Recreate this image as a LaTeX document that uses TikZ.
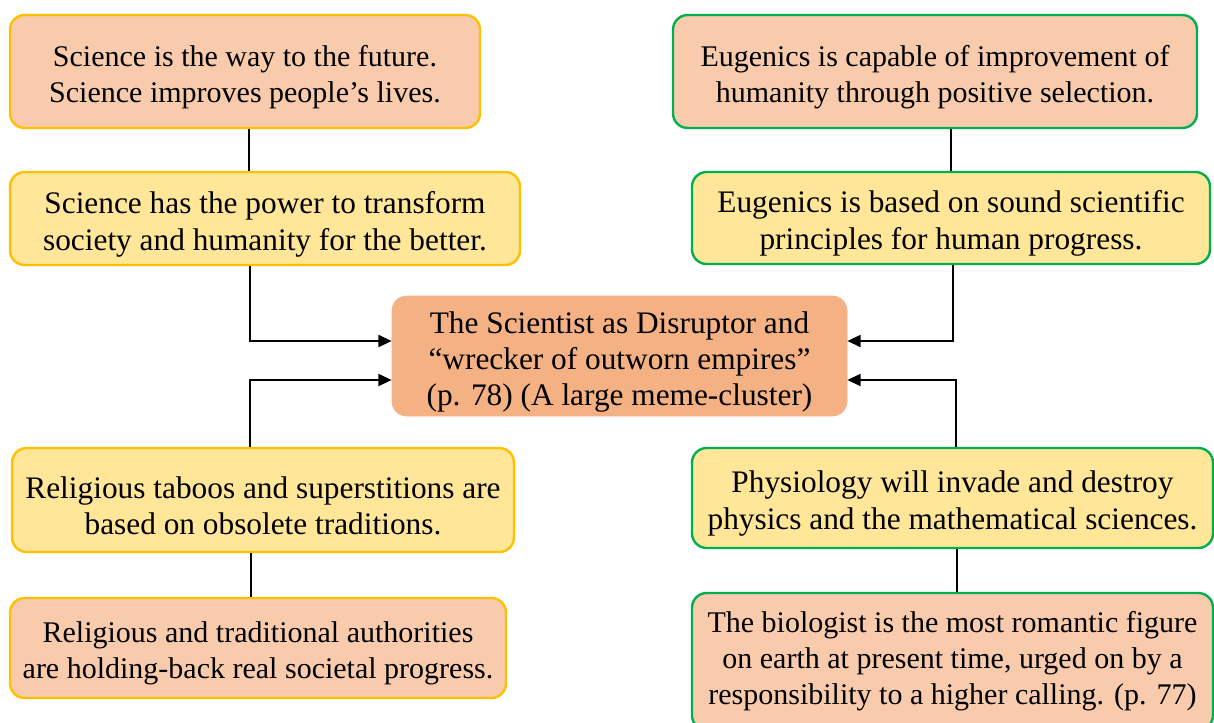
\documentclass[tikz,border=0pt]{standalone}
\usepackage{fontspec}
\setmainfont{Liberation Serif}
\usetikzlibrary{arrows.meta,calc}
\definecolor{peach}{HTML}{F8CBAD}
\definecolor{butter}{HTML}{FFE699}
\definecolor{coral}{HTML}{F4B183}
\definecolor{gold}{HTML}{FFC000}
\definecolor{leaf}{HTML}{00B050}
% taller first line so the text block sits a little lower in its box
\newcommand\firststrut{\rule{0pt}{1.06em}}
\tikzset{
  card/.style={rectangle, rounded corners=11pt, line width=1.8pt, align=center,
    inner sep=0pt, text=black},
  goldcard/.style={card, draw=gold},
  greencard/.style={card, draw=leaf},
  outer/.style={fill=peach, font=\fontsize{22.5}{27}\selectfont},
  inner/.style={fill=butter, font=\fontsize{23.5}{27.5}\selectfont},
  hub/.style={card, fill=coral, draw=coral, line width=0.5pt,
    font=\fontsize{23.5}{27}\selectfont},
  link/.style={line width=1.6pt, draw=black},
  feed/.style={link, -{Triangle[length=10pt,width=9pt]}}
}
\begin{document}
\begin{tikzpicture}[x=0.75pt,y=-0.75pt]
\useasboundingbox (0,0) rectangle (1214,722);

% centre node
\node[hub, minimum width=455*0.75pt, minimum height=120*0.75pt] (C) at (619.5,356)
  {\firststrut The Scientist as Disruptor and\\``wrecker of outworn empires''\\(p. 78) (A large meme-cluster)};

% left column
\node[goldcard, outer, minimum width=470*0.75pt, minimum height=113*0.75pt] (L1) at (245,71.5)
  {\firststrut Science is the way to the future.\\Science improves people's lives.};
\node[goldcard, inner, minimum width=510*0.75pt, minimum height=93*0.75pt] (L2) at (265,218.5)
  {\firststrut Science has the power to transform\\society and humanity for the better.};
\node[goldcard, inner, minimum width=502*0.75pt, minimum height=104*0.75pt] (L3) at (263,500)
  {\firststrut Religious taboos and superstitions are\\based on obsolete traditions.};
\node[goldcard, outer, minimum width=496*0.75pt, minimum height=100*0.75pt] (L4) at (258,648)
  {\firststrut Religious and traditional authorities\\are holding-back real societal progress.};

% right column
\node[greencard, outer, minimum width=524*0.75pt, minimum height=113*0.75pt] (R1) at (935,71.5)
  {\firststrut Eugenics is capable of improvement of\\humanity through positive selection.};
\node[greencard, inner, minimum width=518*0.75pt, minimum height=92*0.75pt] (R2) at (951,218)
  {\firststrut Eugenics is based on sound scientific\\principles for human progress.};
\node[greencard, inner, minimum width=521*0.75pt, minimum height=100*0.75pt] (R3) at (952.5,498)
  {\firststrut Physiology will invade and destroy\\physics and the mathematical sciences.};
\node[greencard, outer, minimum width=521*0.75pt, minimum height=137*0.75pt] (R4) at (952.5,661.5)
  {The biologist is the most romantic figure\\on earth at present time, urged on by a\\responsibility to a higher calling. (p. 77)};

% connector columns
\coordinate (la) at (249,0);
\coordinate (lb) at (250,0);
\coordinate (lc) at (251,0);
\coordinate (ra) at (951,0);
\coordinate (rb) at (953,0);
\coordinate (rc) at (956,0);
\coordinate (rd) at (957,0);

\draw[link] (L1.south -| la) -- (L2.north -| la);
\draw[feed] (L2.south -| lb) |- ($(C.west)+(0,-15)$);
\draw[feed] (L3.north -| lb) |- ($(C.west)+(0,24)$);
\draw[link] (L3.south -| lc) -- (L4.north -| lc);

\draw[link] (R1.south -| ra) -- (R2.north -| ra);
\draw[feed] (R2.south -| rb) |- ($(C.east)+(0,-15)$);
\draw[feed] (R3.north -| rc) |- ($(C.east)+(0,24)$);
\draw[link] (R3.south -| rd) -- (R4.north -| rd);
\end{tikzpicture}
\end{document}
